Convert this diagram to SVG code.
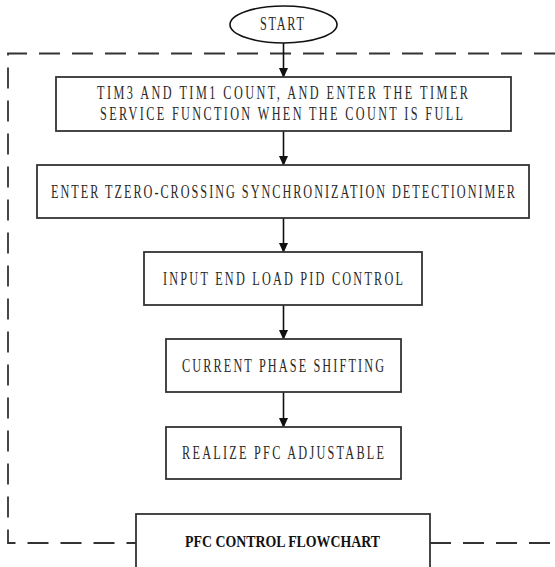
<svg xmlns="http://www.w3.org/2000/svg" width="555" height="567" viewBox="0 0 555 567">
<style>
.box{fill:#fff;stroke:#333;stroke-width:1.8}
.t{font-family:"Liberation Serif",serif;font-size:18px;fill:#2a2a2a;text-anchor:middle}
.tb{font-family:"Liberation Serif",serif;font-size:17px;font-weight:bold;fill:#111;text-anchor:middle}
.dash{fill:none;stroke:#333;stroke-width:1.8;stroke-dasharray:21 12}
.conn{stroke:#111;stroke-width:1.6;fill:none;marker-end:url(#ah)}
</style>
<defs>
<marker id="ah" markerWidth="10" markerHeight="11" refX="10" refY="5" orient="auto" markerUnits="userSpaceOnUse" viewBox="0 0 11 10">
<path d="M0,0 L11,5 L0,10 Z" fill="#111"/>
</marker>
</defs>
<rect width="555" height="567" fill="#fff"/>
<g id="boundary">
<path class="dash" d="M555,53.5 H8 V543 H136"/>
<path class="dash" d="M430,543 H555"/>
</g>
<g id="connectors">
<line class="conn" x1="283.5" y1="43" x2="283.5" y2="77"/>
<line class="conn" x1="283.5" y1="131" x2="283.5" y2="165"/>
<line class="conn" x1="283.5" y1="218" x2="283.5" y2="252"/>
<line class="conn" x1="283.5" y1="305" x2="283.5" y2="339"/>
<line class="conn" x1="283.5" y1="392" x2="283.5" y2="427"/>
</g>
<g id="start">
<ellipse cx="283.5" cy="24.5" rx="53.5" ry="18.5" fill="#fff" stroke="#111" stroke-width="1.6"/>
<text class="t" transform="translate(282,30) scale(0.68,1)" x="0" y="0" textLength="64.7" lengthAdjust="spacing">START</text>
</g>
<g id="n1">
<rect class="box" x="56" y="77" width="455" height="54"/>
<text class="t" transform="translate(282.5,99) scale(0.68,1)" x="0" y="0" textLength="545.6" lengthAdjust="spacing">TIM3 AND TIM1 COUNT, AND ENTER THE TIMER</text>
<text class="t" transform="translate(281.5,120) scale(0.68,1)" x="0" y="0" textLength="533.8" lengthAdjust="spacing">SERVICE FUNCTION WHEN THE COUNT IS FULL</text>
</g>
<g id="n2">
<rect class="box" x="37" y="165" width="492" height="53"/>
<text class="t" transform="translate(283,198) scale(0.68,1)" x="0" y="0" textLength="682.4" lengthAdjust="spacing">ENTER TZERO-CROSSING SYNCHRONIZATION DETECTIONIMER</text>
</g>
<g id="n3">
<rect class="box" x="144" y="252" width="278" height="53"/>
<text class="t" transform="translate(283,284.5) scale(0.68,1)" x="0" y="0" textLength="352.9" lengthAdjust="spacing">INPUT END LOAD PID CONTROL</text>
</g>
<g id="n4">
<rect class="box" x="166" y="339" width="235" height="53"/>
<text class="t" transform="translate(283,371.5) scale(0.68,1)" x="0" y="0" textLength="297.1" lengthAdjust="spacing">CURRENT PHASE SHIFTING</text>
</g>
<g id="n5">
<rect class="box" x="166" y="427" width="235" height="52"/>
<text class="t" transform="translate(283,458.5) scale(0.68,1)" x="0" y="0" textLength="297.1" lengthAdjust="spacing">REALIZE PFC ADJUSTABLE</text>
</g>
<g id="title">
<rect class="box" x="136" y="514" width="294" height="60"/>
<text class="tb" x="282.5" y="547" textLength="195" lengthAdjust="spacingAndGlyphs">PFC CONTROL FLOWCHART</text>
</g>
</svg>
